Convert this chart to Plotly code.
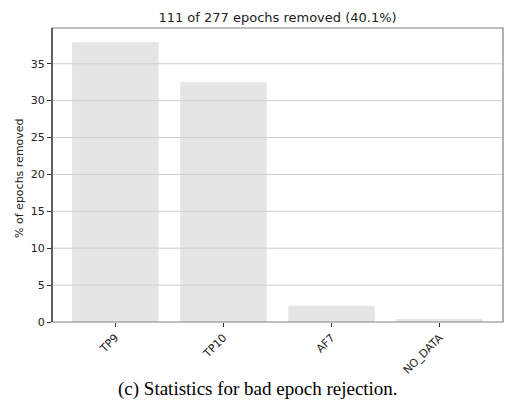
import plotly.graph_objects as go

channels = ["TP9", "TP10", "AF7", "NO_DATA"]
pct_removed = [37.9, 32.5, 2.2, 0.4]
y_ticks = [0, 5, 10, 15, 20, 25, 30, 35]
title_text = "111 of 277 epochs removed (40.1%)"
y_title = "% of epochs removed"
caption = "(c) Statistics for bad epoch rejection."

fig = go.Figure()
fig.add_trace(go.Bar(
    x=list(range(len(channels))), y=pct_removed, width=0.8,
    marker=dict(color="#e5e5e5", line=dict(width=0)),
))

shapes = []
for t in y_ticks[1:]:
    shapes.append(dict(type="line", xref="paper", yref="y", x0=0, x1=1, y0=t, y1=t,
                       line=dict(color="#cfcfcf", width=1), layer="above"))
# frame
shapes.append(dict(type="rect", xref="paper", yref="paper", x0=0, x1=1, y0=0, y1=1,
                   line=dict(color="#808080", width=1.2), layer="above"))
shapes.append(dict(type="line", xref="paper", yref="paper", x0=0, x1=0, y0=0, y1=1,
                   line=dict(color="#333333", width=1.3), layer="above"))

font_fam = "DejaVu Sans"
fig.update_layout(
    width=505, height=412,
    margin=dict(l=52, r=2, t=28, b=90),
    plot_bgcolor="white", paper_bgcolor="white",
    showlegend=False,
    shapes=shapes,
    font=dict(family=font_fam, size=11, color="#222222"),
    title=dict(text=title_text, x=(52 + 503) / 2 / 505, xanchor="center",
               y=1 - 17 / 412, yanchor="middle", yref="container",
               font=dict(family=font_fam, size=13, color="#222222")),
    xaxis=dict(range=[-0.586, 3.586], tickmode="array",
               tickvals=list(range(len(channels))), ticktext=channels,
               tickangle=-45, ticks="outside", ticklen=4, tickcolor="#333333",
               showgrid=False, zeroline=False, showline=False,
               tickfont=dict(family=font_fam, size=11, color="#222222")),
    yaxis=dict(range=[0, 39.84], tickmode="array", tickvals=y_ticks,
               ticks="outside", ticklen=4, tickcolor="#333333",
               showgrid=False, zeroline=False, showline=False,
               tickfont=dict(family=font_fam, size=11, color="#222222")),
    annotations=[
        dict(text=y_title, xref="paper", yref="paper", x=(20 - 52) / 451, y=0.49,
             textangle=-90, showarrow=False, xanchor="center", yanchor="middle",
             font=dict(family=font_fam, size=11, color="#222222")),
        dict(text=caption, xref="paper", yref="paper", x=(258 - 52) / 451,
             y=(322 - 389) / 294, showarrow=False, xanchor="center", yanchor="middle",
             font=dict(family="Liberation Serif", size=19, color="black")),
    ],
)

fig.write_html("out.html")
